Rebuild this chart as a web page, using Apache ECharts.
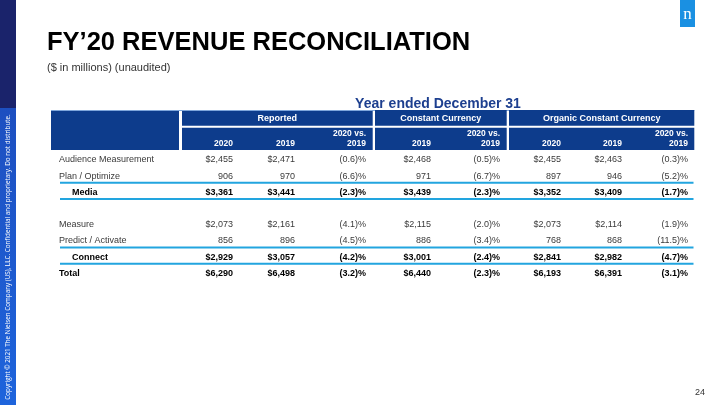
<!DOCTYPE html>
<html><head><meta charset="utf-8">
<script src="https://cdn.jsdelivr.net/npm/echarts@6/dist/echarts.min.js"></script>
<style>html,body{margin:0;padding:0;background:#fff}#c{width:720px;height:405px}</style>
</head><body><div id="c"></div>
<script>
// ---------- data ----------
const rowLabels = ['Audience Measurement', 'Plan / Optimize', 'Media', '', 'Measure', 'Predict / Activate', 'Connect', 'Total'];
const rowKinds = ['item', 'item', 'subtotal', 'blank', 'item', 'item', 'subtotal', 'total'];
const dollarRows = [true, false, true, false, true, false, true, true];

const reported2020 = [2455, 906, 3361, null, 2073, 856, 2929, 6290];
const reported2019 = [2471, 970, 3441, null, 2161, 896, 3057, 6498];
const reportedChange = [-0.6, -6.6, -2.3, null, -4.1, -4.5, -4.2, -3.2];
const constant2019 = [2468, 971, 3439, null, 2115, 886, 3001, 6440];
const constantChange = [-0.5, -6.7, -2.3, null, -2.0, -3.4, -2.4, -2.3];
const organic2020 = [2455, 897, 3352, null, 2073, 768, 2841, 6193];
const organic2019 = [2463, 946, 3409, null, 2114, 868, 2982, 6391];
const organicChange = [-0.3, -5.2, -1.7, null, -1.9, -11.5, -4.7, -3.1];

const groupHeaders = ['Reported', 'Constant Currency', 'Organic Constant Currency'];
const columnHeaders = [['2020'], ['2019'], ['2020 vs.', '2019'], ['2019'], ['2020 vs.', '2019'], ['2020'], ['2019'], ['2020 vs.', '2019']];
const columnTypes = ['money', 'money', 'pct', 'money', 'pct', 'money', 'money', 'pct'];
const columns = [reported2020, reported2019, reportedChange, constant2019, constantChange, organic2020, organic2019, organicChange];
const separatorAfterRows = [1, 2, 5, 6];

const titleText = 'FY\u201920 REVENUE RECONCILIATION';
const subtitleText = '($ in millions) (unaudited)';
const periodText = 'Year ended December 31';
const copyrightText = 'Copyright \u00a9 2021 The Nielsen Company (US), LLC. Confidential and proprietary. Do not distribute.';
const pageNumber = '24';

// ---------- layout ----------
const FONT = '"Liberation Sans", Arial, Helvetica, sans-serif';
const colRight = [233, 295, 366, 431, 500, 561, 622, 688];
const groupSpans = [[182, 372.7], [375, 506.7], [509, 694.3]];
const labelBlock = [51, 179];
const NAVY = '#0d3c8c';
const LINE = '#22a5df';

function fmtMoney(v, dollar) { return (dollar ? '$' : '') + v.toLocaleString('en-US'); }
function fmtPct(v) { return v < 0 ? '(' + Math.abs(v).toFixed(1) + ')%' : v.toFixed(1) + '%'; }

// body cells: [xPosition, rowIndex, columnIndex]  (column -1 = row label)
const bodyData = [];
rowLabels.forEach((lab, r) => {
  if (rowKinds[r] === 'blank') return;
  bodyData.push([rowKinds[r] === 'subtotal' ? 72 : 59, r, -1]);
  columns.forEach((col, c) => { if (col[r] != null) bodyData.push([colRight[c], r, c]); });
});

const headerGroupData = groupHeaders.map((g, i) => [groupSpans[i][0], 110, i]);
const headerColData = columnHeaders.map((h, i) => [colRight[i], 143.5, i]);

const chart = echarts.init(document.getElementById('c'), null, { renderer: 'canvas' });

chart.setOption({
  animation: false,
  backgroundColor: '#ffffff',
  grid: [
    { left: 0, right: 0, top: 0, bottom: 0 },
    { left: 0, right: 0, top: 151.9, height: 129.6 }
  ],
  xAxis: [
    { gridIndex: 0, type: 'value', min: 0, max: 720, show: false },
    { gridIndex: 1, type: 'value', min: 0, max: 720, show: false }
  ],
  yAxis: [
    { gridIndex: 0, type: 'value', min: 0, max: 405, inverse: true, show: false },
    { gridIndex: 1, type: 'category', data: rowLabels, inverse: true, show: false }
  ],
  graphic: [
    { type: 'rect', shape: { x: 0, y: 0, width: 16, height: 108 }, style: { fill: '#1a236b' } },
    { type: 'rect', shape: { x: 0, y: 108, width: 16, height: 297 },
      style: { fill: new echarts.graphic.LinearGradient(0, 0, 0, 1, [{ offset: 0, color: '#1d4fc0' }, { offset: 1, color: '#1e64dc' }]) } },
    { type: 'text', x: 8.5, y: 257, rotation: Math.PI / 2,
      style: { text: copyrightText, fill: '#ffffff', font: '6.3px "Open Sans", "Liberation Sans", sans-serif', align: 'center', verticalAlign: 'middle' } },
    { type: 'rect', shape: { x: 680, y: 0, width: 15, height: 27 }, style: { fill: '#1a90e2' } },
    { type: 'text', x: 687.5, y: 15, style: { text: 'n', fill: '#ffffff', font: '17px "Liberation Serif", "DejaVu Serif", serif', align: 'center', verticalAlign: 'middle' } },
    { type: 'text', x: 47, y: 43, style: { text: titleText, fill: '#000000', font: 'bold 25.5px ' + FONT, align: 'left', verticalAlign: 'middle' } },
    { type: 'text', x: 47, y: 68, style: { text: subtitleText, fill: '#333333', font: '11px ' + FONT, align: 'left', verticalAlign: 'middle' } },
    { type: 'text', x: 438, y: 104, style: { text: periodText, fill: '#1d3f8f', font: 'bold 14px ' + FONT, align: 'center', verticalAlign: 'middle' } },
    { type: 'text', x: 705, y: 393, style: { text: pageNumber, fill: '#333333', font: '9px ' + FONT, align: 'right', verticalAlign: 'middle' } }
  ],
  series: [
    // header blocks + group titles
    {
      type: 'custom', xAxisIndex: 0, yAxisIndex: 0, silent: true, z: 2,
      data: headerGroupData,
      renderItem: function (params, api) {
        const i = api.value(2);
        const children = [];
        const p0 = api.coord([groupSpans[i][0], 110]);
        const p1 = api.coord([groupSpans[i][1], 125.7]);
        const p2 = api.coord([groupSpans[i][0], 127.7]);
        const p3 = api.coord([groupSpans[i][1], 150]);
        children.push({ type: 'rect', shape: { x: p0[0], y: p0[1], width: p1[0] - p0[0], height: p1[1] - p0[1] }, style: { fill: NAVY } });
        children.push({ type: 'rect', shape: { x: p2[0], y: p2[1], width: p3[0] - p2[0], height: p3[1] - p2[1] }, style: { fill: NAVY } });
        const c = api.coord([(groupSpans[i][0] + groupSpans[i][1]) / 2, 118.3]);
        children.push({ type: 'text', x: c[0], y: c[1], style: { text: groupHeaders[i], fill: '#ffffff', font: 'bold 9px ' + FONT, align: 'center', verticalAlign: 'middle' } });
        if (i === 0) {
          const q0 = api.coord([labelBlock[0], 110]);
          const q1 = api.coord([labelBlock[1], 150]);
          children.push({ type: 'rect', shape: { x: q0[0], y: q0[1], width: q1[0] - q0[0], height: q1[1] - q0[1] }, style: { fill: NAVY } });
          const t0 = api.coord([labelBlock[0], 110]);
          const t1 = api.coord([groupSpans[2][1], 110]);
          children.push({ type: 'line', shape: { x1: t0[0], y1: t0[1] + 0.5, x2: t1[0], y2: t1[1] + 0.5 }, style: { stroke: '#7ea6db', lineWidth: 1 } });
        }
        return { type: 'group', children: children };
      }
    },
    // column headers
    {
      type: 'custom', xAxisIndex: 0, yAxisIndex: 0, silent: true, z: 3,
      data: headerColData,
      renderItem: function (params, api) {
        const i = api.value(2);
        const lines = columnHeaders[i];
        const p = api.coord([api.value(0), api.value(1)]);
        const children = [];
        for (let k = 0; k < lines.length; k++) {
          const dy = (lines.length - 1 - k) * 9.4;
          children.push({ type: 'text', x: p[0], y: p[1] - dy, style: { text: lines[k], fill: '#ffffff', font: 'bold 8.5px ' + FONT, align: 'right', verticalAlign: 'middle' } });
        }
        return { type: 'group', children: children };
      }
    },
    // separator lines
    {
      type: 'custom', xAxisIndex: 1, yAxisIndex: 1, silent: true, z: 2,
      data: separatorAfterRows.map(r => [60, r]),
      renderItem: function (params, api) {
        const p = api.coord([60, api.value(1)]);
        const q = api.coord([693.5, api.value(1)]);
        const h = api.size([0, 1])[1];
        const y = p[1] + h / 2 - 1.5;
        return { type: 'line', shape: { x1: p[0], y1: y, x2: q[0], y2: y }, style: { stroke: LINE, lineWidth: 2 } };
      }
    },
    // body cells
    {
      type: 'custom', xAxisIndex: 1, yAxisIndex: 1, silent: true, z: 3,
      data: bodyData,
      renderItem: function (params, api) {
        const r = api.value(1);
        const c = api.value(2);
        const p = api.coord([api.value(0), r]);
        const kind = rowKinds[r];
        const bold = kind === 'subtotal' || kind === 'total';
        let text;
        if (c < 0) text = rowLabels[r];
        else text = columnTypes[c] === 'money' ? fmtMoney(columns[c][r], dollarRows[r]) : fmtPct(columns[c][r]);
        return { type: 'text', x: p[0], y: p[1], style: {
          text: text, fill: bold ? '#000000' : '#3a3a3a',
          font: (bold ? 'bold ' : '') + '9px ' + FONT,
          align: c < 0 ? 'left' : 'right', verticalAlign: 'middle' } };
      }
    }
  ]
});
</script>
</body></html>
